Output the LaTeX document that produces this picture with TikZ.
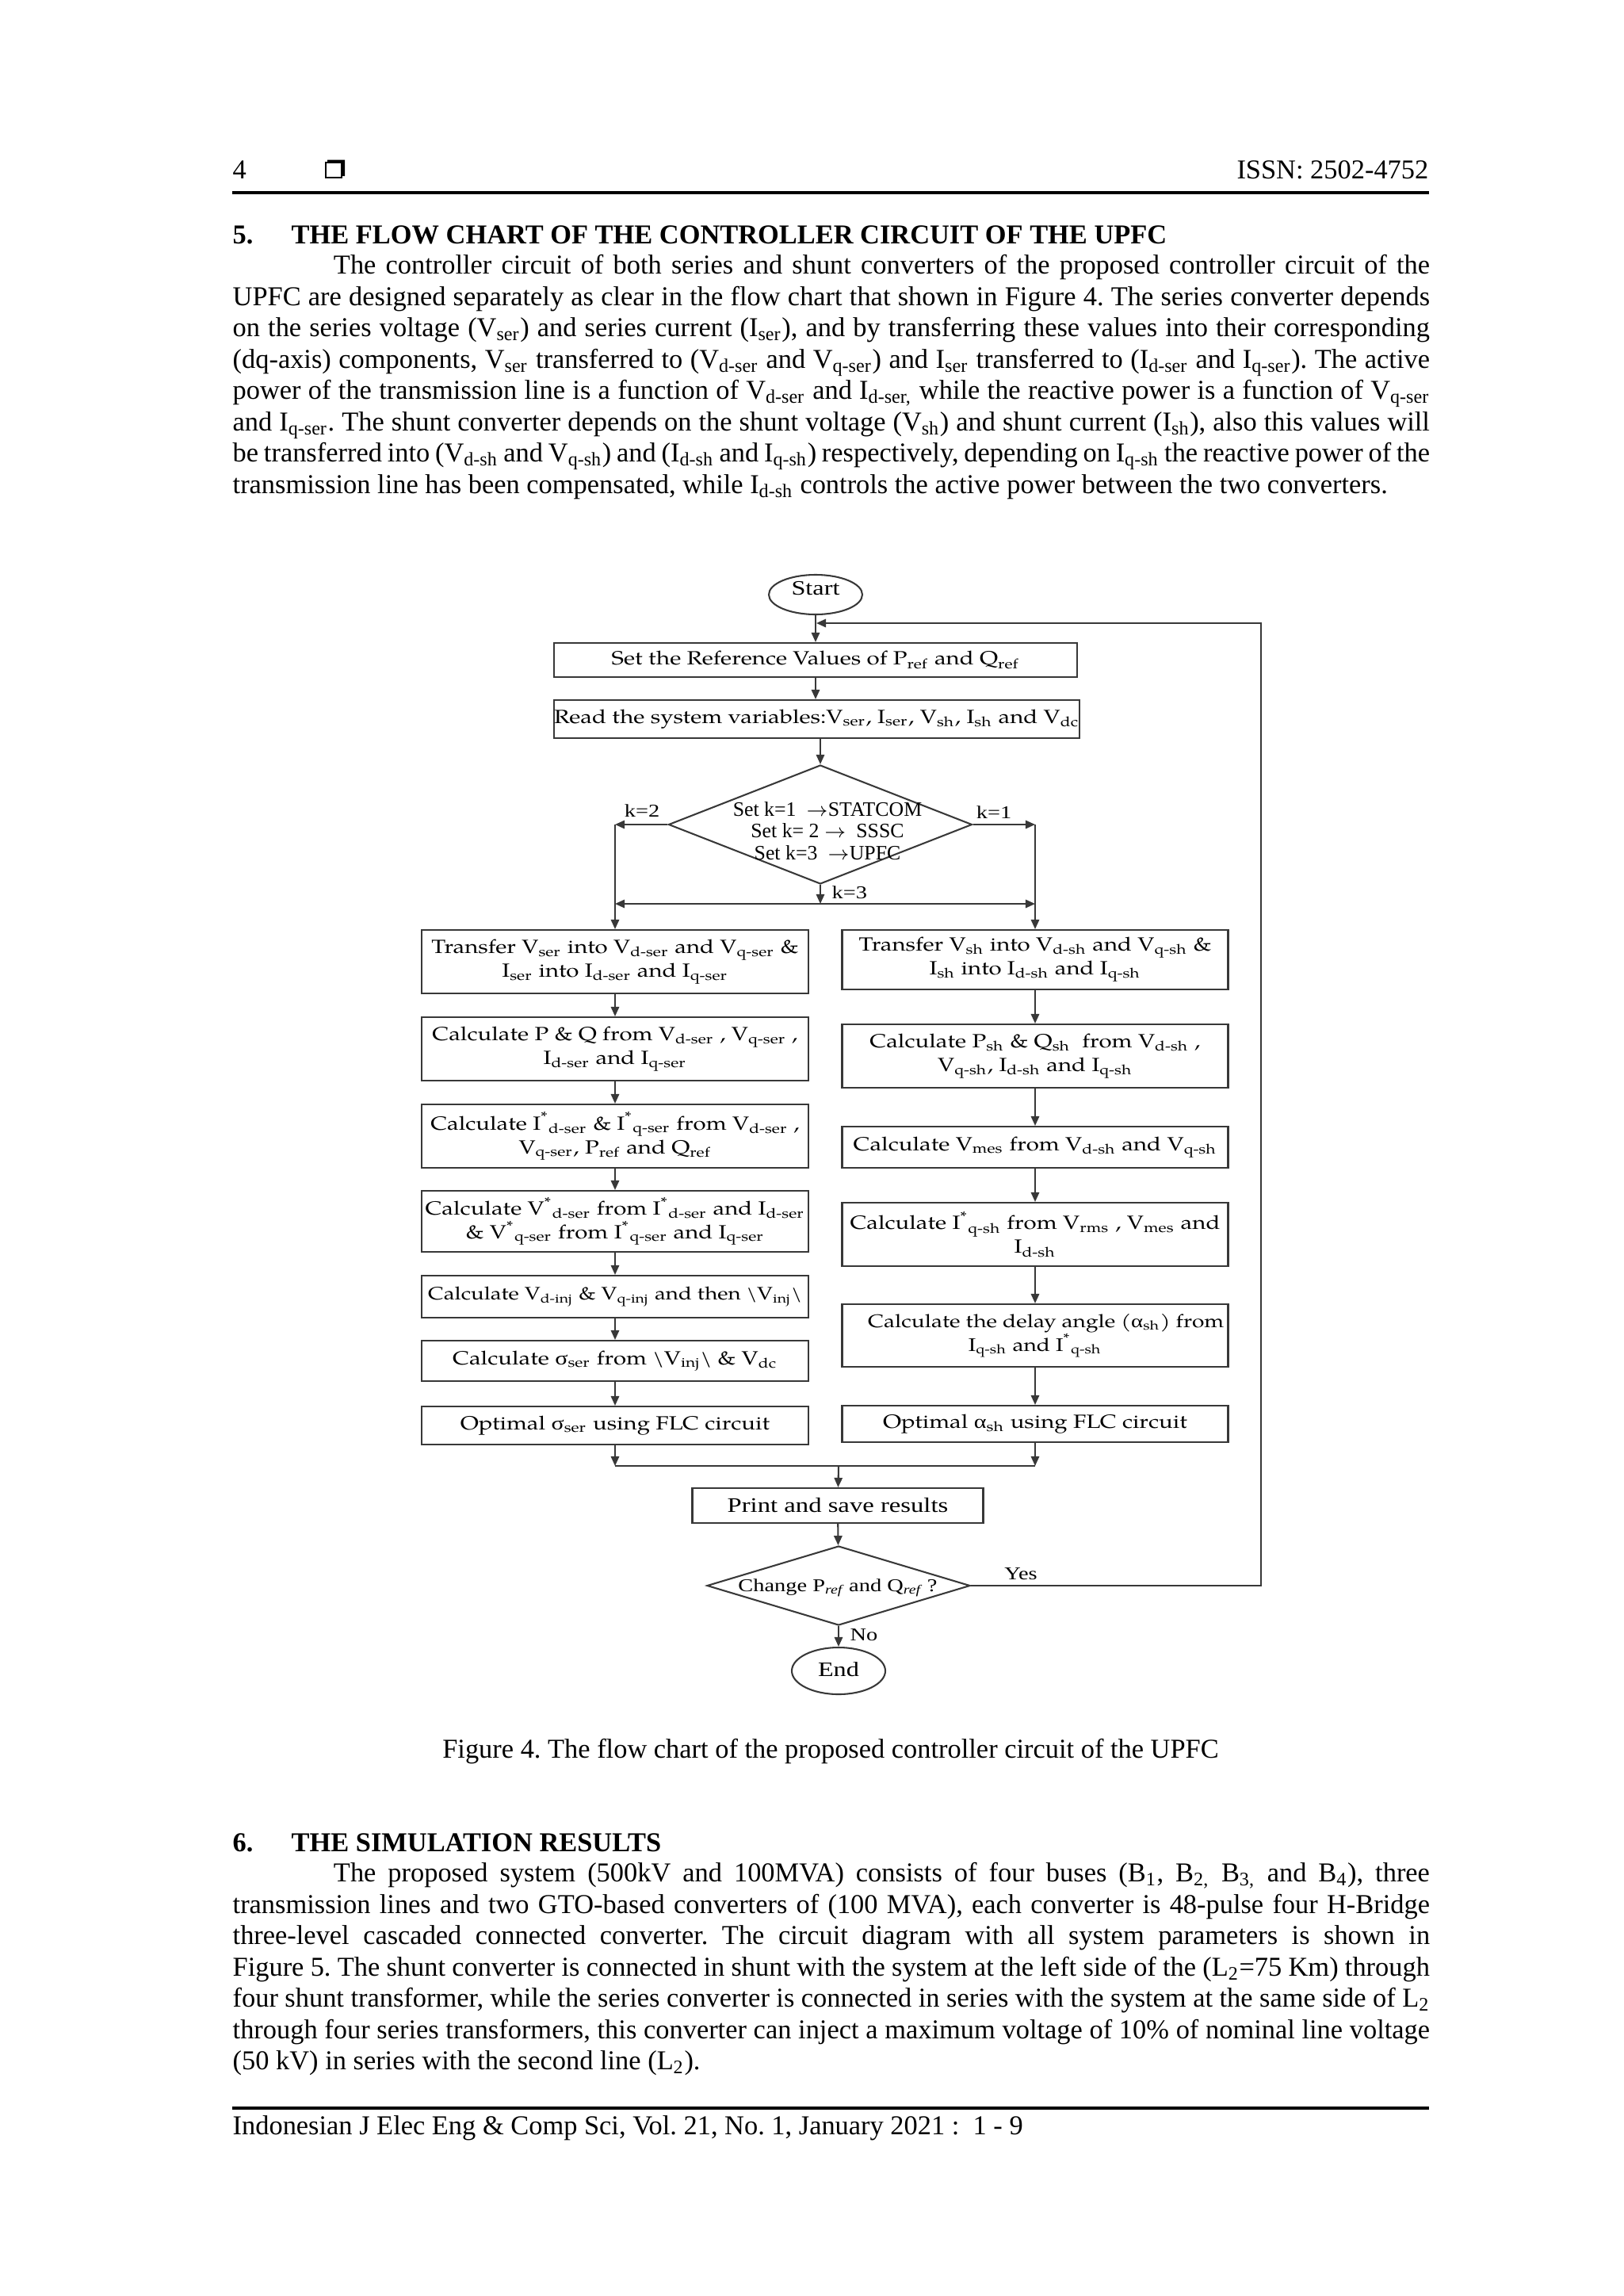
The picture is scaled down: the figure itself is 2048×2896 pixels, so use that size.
\documentclass[tikz,border=0pt]{standalone}
\usepackage{fontspec}
\setmainfont{Liberation Serif}
\newfontfamily\bxfont[FakeStretch=1.22]{TeX Gyre Pagella}
\newfontfamily\tmsfont[FakeStretch=1.25]{Liberation Serif}
\usetikzlibrary{arrows.meta,shapes.geometric}
\newcommand\px[1]{#1*0.29066pt}
\newcommand\su[1]{\textsubscript{#1}}
\newcommand\st{\textsuperscript{*}}
\newcommand\gk[1]{{\tmsfont #1}}
\newcommand\rarr{\ensuremath{\rightarrow}}
\newcommand\bxf{\bxfont\fontsize{7}{8.7}\selectfont}
\newcommand\lbf{\tmsfont\fontsize{6.6}{8}\selectfont}
\newcommand\jl[3]{\node[anchor=base west,inner sep=0pt] (#1) at (293,#2) {\hbox to 439pt{#3}};}
\tikzset{
  ln/.style={draw=black!78, line width=0.6pt},
  ar/.style={ln, -{Triangle[length=3.5pt,width=3pt]}},
  bx/.style={draw=black!78, line width=0.6pt, inner sep=0pt, align=center, font=\bxf},
  term/.style={ellipse, draw=black!78, line width=0.6pt, inner sep=0pt},
  termtxt/.style={inner sep=0pt, font=\tmsfont\fontsize{7.5}{9}\selectfont},
  dia/.style={diamond, draw=black!78, line width=0.6pt, inner sep=0pt},
  lbl/.style={inner sep=0pt, font=\lbf},
  txt/.style={anchor=base west, inner sep=0pt}
}
\begin{document}
\frenchspacing
\begin{tikzpicture}[x=0.29066pt,y=-0.29066pt]
\path[use as bounding box] (0,0) rectangle (2048,2896);
\fill[white] (0,0) rectangle (2048,2896);

% ---------- header ----------
\node[txt] (pgno) at (293,225) {4};
\draw[line width=0.5pt] (411,205) rectangle (431,224);
\fill (413,201.5) -- (435,201.5) -- (435,222) -- (431,222) -- (431,205) -- (413,205) -- cycle;
\node[anchor=base east, inner sep=0pt] (issn) at (1803,225) {ISSN: 2502-4752};
\draw[line width=0.9pt] (293,243) -- (1803,243);

% ---------- section 5 ----------
\node[txt, font=\bfseries] (h5n) at (293,307) {5.};
\node[txt, font=\bfseries] (h5) at (367,307) {THE FLOW CHART OF THE CONTROLLER CIRCUIT OF THE UPFC};
\jl{pa1}{345.7}{\hskip 37pt The controller circuit of both series and shunt converters of the proposed controller circuit of the}
\jl{pa2}{385.2}{UPFC are designed separately as clear in the flow chart that shown in Figure 4. The series converter depends}
\jl{pa3}{424.7}{on the series voltage (V\su{ser}) and series current (I\su{ser}), and by transferring these values into their corresponding}
\jl{pa4}{464.2}{(dq-axis) components, V\su{ser} transferred to (V\su{d-ser} and V\su{q-ser}) and I\su{ser} transferred to (I\su{d-ser} and I\su{q-ser}). The active}
\jl{pa5}{503.7}{power of the transmission line is a function of V\su{d-ser} and I\su{d-ser,} while the reactive power is a function of V\su{q-ser}}
\jl{pa6}{543.2}{and I\su{q-ser}. The shunt converter depends on the shunt voltage (V\su{sh}) and shunt current (I\su{sh}), also this values will}
\jl{pa7}{582.7}{be transferred into (V\su{d-sh} and V\su{q-sh}) and (I\su{d-sh} and I\su{q-sh}) respectively, depending on I\su{q-sh} the reactive power of the}
\node[txt] (pa8) at (293,622.2) {transmission line has been compensated, while I\su{d-sh} controls the active power between the two converters.};

% ---------- flow chart ----------
\node[term, minimum width=\px{118}, minimum height=\px{50}] (start) at (1029,750) {};
\node[termtxt] (startt) at (1029,742) {Start};
\node[bx, minimum width=\px{660}, minimum height=\px{43}] (b1) at (1029,832.5) {Set the Reference Values of P\su{ref} and Q\su{ref}};
\node[bx, minimum width=\px{659}, minimum height=\px{48}] (b2) at (1030.5,907) {Read the system variables:V\su{ser}, I\su{ser}, V\su{sh}, I\su{sh} and V\su{dc}};
\node[dia, minimum width=\px{383}, minimum height=\px{150}] (d1) at (1035,1040) {};
\node[inner sep=0pt, align=center, font=\fontsize{7.5}{8}\selectfont] (d1t) at (1044,1048) {Set k=1 \ \rarr STATCOM\\Set k= 2 \rarr\ \ SSSC\\Set k=3 \ \rarr UPFC};

% left column
\node[bx, minimum width=\px{488}, minimum height=\px{80}] (L1) at (776,1213) {Transfer V\su{ser} into V\su{d-ser} and V\su{q-ser} \&\\I\su{ser} into I\su{d-ser} and I\su{q-ser}};
\node[bx, minimum width=\px{488}, minimum height=\px{80}] (L2) at (776,1323) {Calculate P \& Q from V\su{d-ser} , V\su{q-ser} ,\\I\su{d-ser} and I\su{q-ser}};
\node[bx, minimum width=\px{488}, minimum height=\px{80}] (L3) at (776,1433) {Calculate I\st\su{d-ser} \& I\st\su{q-ser} from V\su{d-ser} ,\\V\su{q-ser}, P\su{ref} and Q\su{ref}};
\node[bx, minimum width=\px{488}, minimum height=\px{77}] (L4) at (776,1540.5) {Calculate V\st\su{d-ser} from I\st\su{d-ser} and I\su{d-ser}\\\& V\st\su{q-ser} from I\st\su{q-ser} and I\su{q-ser}};
\node[bx, minimum width=\px{488}, minimum height=\px{53}, font=\bxfont\fontsize{6.6}{8.7}\selectfont] (L5) at (776,1635.5) {Calculate V\su{d-inj} \& V\su{q-inj} and then \textbackslash V\su{inj}\textbackslash};
\node[bx, minimum width=\px{488}, minimum height=\px{51}] (L6) at (776,1716.5) {Calculate \gk{σ}\su{ser} from \textbackslash V\su{inj}\textbackslash\ \& V\su{dc}};
\node[bx, minimum width=\px{488}, minimum height=\px{48}] (L7) at (776,1798) {Optimal \gk{σ}\su{ser} using FLC circuit};

% right column
\node[bx, minimum width=\px{487}, minimum height=\px{75}] (R1) at (1306,1210.5) {Transfer V\su{sh} into V\su{d-sh} and V\su{q-sh} \&\\I\su{sh} into I\su{d-sh} and I\su{q-sh}};
\node[bx, minimum width=\px{487}, minimum height=\px{80}] (R2) at (1306,1332) {Calculate P\su{sh} \& Q\su{sh} \ from V\su{d-sh} ,\\V\su{q-sh}, I\su{d-sh} and I\su{q-sh}};
\node[bx, minimum width=\px{487}, minimum height=\px{52}] (R3) at (1306,1447) {Calculate V\su{mes} from V\su{d-sh} and V\su{q-sh}};
\node[bx, minimum width=\px{487}, minimum height=\px{80}] (R4) at (1306,1557) {Calculate I\st\su{q-sh} from V\su{rms} , V\su{mes} and\\I\su{d-sh}};
\node[bx, minimum width=\px{487}, minimum height=\px{79}, font=\bxfont\fontsize{6.7}{8.7}\selectfont] (R5) at (1306,1684.5) {\hspace*{8pt}Calculate the delay angle (\gk{α}\su{sh}) from\\I\su{q-sh} and I\st\su{q-sh}};
\node[bx, minimum width=\px{487}, minimum height=\px{46}] (R6) at (1306,1796) {Optimal \gk{α}\su{sh} using FLC circuit};

% bottom
\node[draw=black!78, line width=0.6pt, inner sep=0pt, minimum width=\px{367}, minimum height=\px{44}, font=\tmsfont\fontsize{7.6}{9}\selectfont] (pr) at (1057,1899) {Print and save results};
\node[dia, minimum width=\px{332}, minimum height=\px{100}] (d2) at (1058,2000) {};
\node[anchor=base, inner sep=0pt, font=\lbf] (d2t) at (1057,2007) {Change P\textsubscript{\itshape ref} and Q\textsubscript{\itshape ref} ?};
\node[term, minimum width=\px{118}, minimum height=\px{59}] (end) at (1058,2107.5) {};
\node[termtxt] (endt) at (1058,2106) {End};

% coordinates
\coordinate (kl) at (776,1040);
\coordinate (kr) at (1306,1040);
\coordinate (hl) at (776,1140);
\coordinate (hr) at (1306,1140);
\coordinate (hm) at (1035,1140);
\coordinate (ml) at (776,1849);
\coordinate (mr) at (1306,1849);
\coordinate (mm) at (1058,1849);
\coordinate (loopin) at (1030,786);
\coordinate (lc) at (1591,2000);

% connectors
\draw[ar] (start) -- (b1);
\draw[ar] (b1.south) -- (b1.south |- b2.north);
\draw[ar] (d1.north |- b2.south) -- (d1.north);
\draw[ar] (d1.west) -- (kl);
\draw[ar] (d1.east) -- (kr);
\draw[ar] (d1.south) -- (hm);
\draw[ar] (hm) -- (hl);
\draw[ar] (hm) -- (hr);
\draw[ar] (kl) -- (L1.north);
\draw[ar] (kr) -- (R1.north);
\draw[ar] (L1) -- (L2);
\draw[ar] (L2) -- (L3);
\draw[ar] (L3) -- (L4);
\draw[ar] (L4) -- (L5);
\draw[ar] (L5) -- (L6);
\draw[ar] (L6) -- (L7);
\draw[ar] (R1) -- (R2);
\draw[ar] (R2) -- (R3);
\draw[ar] (R3) -- (R4);
\draw[ar] (R4) -- (R5);
\draw[ar] (R5) -- (R6);
\draw[ar] (L7) -- (ml);
\draw[ar] (R6) -- (mr);
\draw[ln] (ml) -- (mr);
\draw[ar] (mm) -- (pr);
\draw[ar] (pr) -- (d2);
\draw[ar] (d2) -- (end);
\draw[ar] (d2.east) -- (lc) |- (loopin);

% labels
\node[lbl, anchor=base] (k2) at (810,1030) {k=2};
\node[lbl, anchor=base] (k1) at (1254,1032) {k=1};
\node[lbl, anchor=base west] (k3) at (1049,1133) {k=3};
\node[lbl, anchor=base] (yes) at (1288,1992) {Yes};
\node[lbl, anchor=base west] (no) at (1072,2069) {No};

% ---------- caption ----------
\node[anchor=base, inner sep=0pt] (cap) at (1048,2217) {Figure 4. The flow chart of the proposed controller circuit of the UPFC};

% ---------- section 6 ----------
\node[txt, font=\bfseries] (h6n) at (293,2335) {6.};
\node[txt, font=\bfseries] (h6) at (367,2335) {THE SIMULATION RESULTS};
\jl{pb1}{2373.5}{\hskip 37pt The proposed system (500kV and 100MVA) consists of four buses (B\su{1}, B\su{2,} B\su{3,} and B\su{4}), three}
\jl{pb2}{2413}{transmission lines and two GTO-based converters of (100 MVA), each converter is 48-pulse four H-Bridge}
\jl{pb3}{2452.5}{three-level cascaded connected converter. The circuit diagram with all system parameters is shown in}
\jl{pb4}{2492}{Figure 5. The shunt converter is connected in shunt with the system at the left side of the (L\su{2}=75 Km) through}
\jl{pb5}{2531.5}{four shunt transformer, while the series converter is connected in series with the system at the same side of L\su{2}}
\jl{pb6}{2571}{through four series transformers, this converter can inject a maximum voltage of 10\% of nominal line voltage}
\node[txt] (pb7) at (293,2610.5) {(50 kV) in series with the second line (L\su{2}).};

% ---------- footer ----------
\draw[line width=0.9pt] (293,2659) -- (1803,2659);
\node[txt] (foot) at (293,2692) {Indonesian J Elec Eng \& Comp Sci, Vol. 21, No. 1, January 2021 :\ \ 1 - 9};
\end{tikzpicture}
\end{document}
